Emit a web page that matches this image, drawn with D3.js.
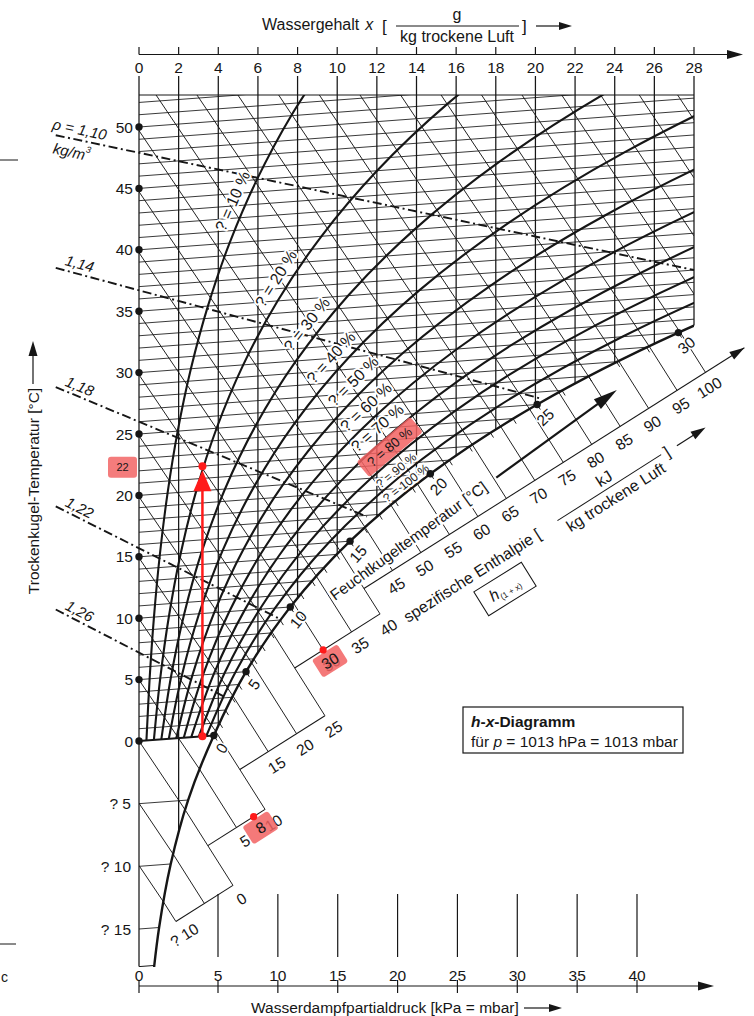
<!DOCTYPE html>
<html>
<head>
<meta charset="utf-8">
<title>h-x-Diagramm</title>
<script src="https://cdn.jsdelivr.net/npm/d3@7"></script>
<style>
  body { margin: 0; background: #fff; }
  #canvas { width: 754px; height: 1016px; }
  text { font-family: "Liberation Sans", Arial, Helvetica, sans-serif; fill: #161616; }
</style>
</head>
<body>
<div id="canvas"></div>
<script>
// ---- values ----
var xTicks = [0, 2, 4, 6, 8, 10, 12, 14, 16, 18, 20, 22, 24, 26, 28];   // Wassergehalt g/kg
var tTicks = [0, 5, 10, 15, 20, 25, 30, 35, 40, 45, 50];               // Trockenkugel °C
var tTicksNeg = [-5, -10, -15];
var pTicks = [0, 5, 10, 15, 20, 25, 30, 35, 40];                       // Partialdruck
// saturation pressure table (hPa), over ice below 0 °C
var satT = [-20, -15, -10, -5, 0, 5, 10, 15, 20, 25, 30, 35, 40, 45, 50, 55];
var satP = [1.03, 1.65, 2.60, 4.02, 6.11, 8.72, 12.28, 17.05, 23.39, 31.69, 42.46, 56.29, 73.84, 95.93, 123.5, 157.6];
var rhLevels = [10, 20, 30, 40, 50, 60, 70, 80, 90, 100];
var rhLabelT = [42.9, 36.2, 32.2, 29.3, 27.2, 25.0, 23.2, 21.7, 20.0, 18.9];
var wetBulbT = [0, 5, 10, 15, 20, 25, 30];
// enthalpy scale: stepped segments
var hSegFrom = [-10, 0, 10, 25, 40];
var hSegTo = [0, 10, 25, 40, 100];
var hSegAtH = [0, 10, 25, 40, 40];
var hSegAtX = [4.74, 6.36, 9.38, 12.16, 11.35];
var hSegLabels = [[-10, 0], [5, 10], [15, 20, 25], [30, 35, 40],
  [45, 50, 55, 60, 65, 70, 75, 80, 85, 90, 95, 100]];
// density lines (kg/m3)
var rhoLabels = ['1,10', '1,14', '1,18', '1,22', '1,26'];
var rhoT0 = [47.9, 36.7, 26.0, 15.7, 7.2];
var rhoXEnd = [28, 20.2, 11.5, 7.2, 4.4];
var rhoTEnd = [35.0, 25.5, 16.9, 9.0, 3.0];
// red marks
var markX = 3.2;
var markT = [0, 22];
var markH = [8, 30];

// ---- layout ----
var P_AIR = 1013;
var SKEW = 1.47;      // isotherms rise to the right (px per g/kg)
var FOG = 1.58;       // slope of enthalpy lines below the saturation curve
var Y_TOP = 95;
var T_MIN = -18;
var ink = '#161616';
var red = '#ff1a1a';

var xScale = d3.scaleLinear().domain([0, 28]).range([139, 694]);
var tScale = d3.scaleLinear().domain([-15, 0, 50]).range([929, 741, 127]);
var pScale = d3.scaleLinear().domain([0, 5, 40]).range([139, 218, 637]);

function pt(x, t) { return [xScale(x), tScale(t) - SKEW * x]; }
function psAt(t) {
  var i = Math.max(0, Math.min(satT.length - 2, d3.bisectRight(satT, t) - 1));
  var f = (t - satT[i]) / (satT[i + 1] - satT[i]);
  return Math.exp(Math.log(satP[i]) * (1 - f) + Math.log(satP[i + 1]) * f);
}
function tAtPs(ps) {
  var i = Math.max(0, Math.min(satP.length - 2, d3.bisectRight(satP, ps) - 1));
  var f = Math.log(ps / satP[i]) / Math.log(satP[i + 1] / satP[i]);
  return satT[i] + f * (satT[i + 1] - satT[i]);
}
function xOf(ps, phi) { var pv = phi * ps; return 622 * pv / (P_AIR - pv); }
function xSatOf(t, phi) { return xOf(psAt(t), phi); }
function tSatOfX(x) { return x <= 0 ? T_MIN : tAtPs(x * P_AIR / (622 + x)); }
function hOf(t, x) { return 1.006 * t + x * (2.501 + 0.00186 * t); }
function tOfHX(h, x) { return (h - 2.501 * x) / (1.006 + 0.00186 * x); }
function tSatOfH(h) {
  var lo = -20, hi = 55;
  for (var i = 0; i < 50; i++) {
    var mid = (lo + hi) / 2;
    if (hOf(mid, xSatOf(mid, 1)) < h) lo = mid; else hi = mid;
  }
  return (lo + hi) / 2;
}
function satPointH(h) { var t = tSatOfH(h); return pt(xSatOf(t, 1), t); }
function segIndex(h) {
  for (var i = 0; i < hSegFrom.length; i++) if (h > hSegFrom[i] && h <= hSegTo[i]) return i;
  return 0;
}
function fogEnd(h, k) {
  var s = satPointH(h);
  var aS = satPointH(hSegAtH[k]);
  var ax = xScale(hSegAtX[k]);
  var ay = aS[1] + FOG * (ax - aS[0]);
  var X = (ay - s[1] + FOG * s[0] + ax / FOG) / (FOG + 1 / FOG);
  return [X, s[1] + FOG * (X - s[0])];
}
var fogN = Math.sqrt(1 + FOG * FOG);
var fogDir = [1 / fogN, FOG / fogN];          // down-right along h lines
var segDir = [FOG / fogN, -1 / fogN];         // up-right along the scale
var segAngle = Math.atan2(segDir[1], segDir[0]) * 180 / Math.PI;
function fmt(v) { return v < 0 ? '? ' + (-v) : String(v); }

var svg = d3.select('#canvas').append('svg')
  .attr('width', 754).attr('height', 1016)
  .style('background', '#fff');

var defs = svg.append('defs');
defs.append('clipPath').attr('id', 'gridClip').append('rect')
  .attr('x', xScale(0)).attr('y', Y_TOP)
  .attr('width', xScale(28) - xScale(0))
  .attr('height', tScale(T_MIN) - Y_TOP + 0.5);

function arrowHead(g, tip, ang, len, half) {
  var c = Math.cos(ang), s = Math.sin(ang);
  var bx = tip[0] - len * c, by = tip[1] - len * s;
  g.append('path')
    .attr('d', 'M' + tip + 'L' + [bx - half * s, by + half * c] + 'L' + [bx + half * s, by - half * c] + 'Z')
    .attr('fill', ink);
}
function halo(sel, w) {
  return sel.attr('stroke', '#fff').attr('stroke-width', w || 4)
    .attr('stroke-linejoin', 'round').attr('paint-order', 'stroke');
}
var line = d3.line();

// ---- clipped grid ----
var grid = svg.append('g').attr('clip-path', 'url(#gridClip)')
  .attr('fill', 'none').attr('stroke', ink);

// isotherms every 1 °C, below zero every 5 °C
var isoT = d3.range(1, 54).concat(tTicksNeg);
grid.selectAll('path.iso').data(isoT).enter().append('path')
  .attr('class', 'iso')
  .attr('stroke-width', 0.85)
  .attr('d', function (t) { return line([pt(0, t), pt(Math.min(28, xSatOf(t, 1)), t)]); });
grid.append('path').attr('stroke-width', 1)
  .attr('d', line([pt(0, T_MIN), pt(xSatOf(T_MIN, 1), T_MIN)]));

// enthalpy lines in the unsaturated region
var hAll = d3.range(-10, 125, 5);
var hSat28 = hOf(tSatOfX(28), 28);
grid.selectAll('path.h').data(hAll).enter().append('path')
  .attr('class', 'h')
  .attr('stroke-width', 0.95)
  .attr('d', function (h) {
    var a = pt(0, h / 1.006);
    var b = h <= hSat28 ? satPointH(h) : pt(28, tOfHX(h, 28));
    return line([a, b]);
  });

// relative humidity curves and saturation curve
var curve = d3.line().curve(d3.curveCatmullRom.alpha(0.5));
rhLevels.forEach(function (phi) {
  var ts = phi < 100 ? satT.filter(function (t) { return t >= 0; }) : satT;
  grid.append('path')
    .attr('stroke-width', phi < 100 ? 2.1 : 2.4)
    .attr('d', curve(ts.map(function (t) { return pt(xSatOf(t, phi / 100), t); })));
});

// top edge
svg.append('path').attr('stroke', ink).attr('stroke-width', 1)
  .attr('d', line([[xScale(0), Y_TOP], [xScale(28), Y_TOP]]));

// vertical lines of constant x
svg.append('g').selectAll('path').data(xTicks).enter().append('path')
  .attr('stroke', ink).attr('stroke-width', 1.25).attr('fill', 'none')
  .attr('d', function (x) { return line([[xScale(x), 76], pt(x, tSatOfX(x))]); });

// 0 °C isotherm (bold)
svg.append('path').attr('stroke', ink).attr('stroke-width', 2).attr('fill', 'none')
  .attr('d', line([pt(0, 0), pt(xSatOf(0, 1), 0)]));

// ---- enthalpy lines past the saturation curve and the stepped scale ----
var fog = svg.append('g').attr('stroke', ink).attr('fill', 'none');
hAll.filter(function (h) { return h <= 100; }).forEach(function (h) {
  fog.append('path').attr('stroke-width', 0.95)
    .attr('d', line([satPointH(h), fogEnd(h, segIndex(h))]));
});
hSegFrom.forEach(function (h0, k) {
  var a = fogEnd(h0, k), b = fogEnd(hSegTo[k], k);
  if (k === hSegFrom.length - 1) {
    b = [b[0] + 46 * segDir[0], b[1] + 46 * segDir[1]];
    arrowHead(svg, b, Math.atan2(segDir[1], segDir[0]), 15, 4.5);
  }
  fog.append('path').attr('stroke-width', 1.05).attr('d', line([a, b]));
});
hSegLabels.forEach(function (vals, k) {
  vals.forEach(function (h) {
    var p = fogEnd(h, k);
    var off = k === 4 ? 15 : 16;
    var along = k === 4 ? -5 : 0;
    svg.append('text')
      .attr('transform', 'translate(' + (p[0] + off * fogDir[0] + along * segDir[0]) + ',' +
        (p[1] + off * fogDir[1] + along * segDir[1]) + ') rotate(' + segAngle + ')')
      .attr('text-anchor', 'middle').attr('dominant-baseline', 'central')
      .attr('font-size', 15.5).text(fmt(h));
  });
});

// wet-bulb ticks on saturation curve
d3.range(0, 31).forEach(function (t) {
  var p = pt(xSatOf(t, 1), t);
  svg.append('path').attr('stroke', ink).attr('stroke-width', 0.95)
    .attr('d', line([p, [p[0] + 6 * fogDir[0], p[1] + 6 * fogDir[1]]]));
});

// ---- density lines ----
var rhoG = svg.append('g');
rhoLabels.forEach(function (lab, i) {
  var xs = -4.2;
  var ts = rhoT0[i] + (rhoTEnd[i] - rhoT0[i]) * xs / rhoXEnd[i];
  var a = pt(xs, ts), b = pt(rhoXEnd[i], rhoTEnd[i]);
  rhoG.append('path').attr('stroke', ink).attr('stroke-width', 1.9).attr('fill', 'none')
    .attr('stroke-dasharray', '9,3.5,2,3.5')
    .attr('d', line([a, b]));
  var ang = Math.atan2(b[1] - a[1], b[0] - a[0]) * 180 / Math.PI;
  var lx = a[0] + 24, ly = a[1] + (b[1] - a[1]) * 24 / (b[0] - a[0]);
  rhoG.append('text')
    .attr('transform', 'translate(' + lx + ',' + (ly - 11) + ') rotate(' + ang + ')')
    .attr('text-anchor', 'middle').attr('dominant-baseline', 'central')
    .attr('font-size', 15).attr('font-style', 'italic')
    .text(i === 0 ? 'ρ = ' + lab : lab);
  if (i === 0) {
    var u = rhoG.append('text')
      .attr('transform', 'translate(' + (lx - 8) + ',' + (ly + 11) + ') rotate(' + ang + ')')
      .attr('text-anchor', 'middle').attr('dominant-baseline', 'central')
      .attr('font-size', 15).attr('font-style', 'italic');
    u.append('tspan').text('kg/m');
    u.append('tspan').attr('font-size', 9).attr('dy', -5).text('3');
  }
});

// ---- RH labels ----
rhLevels.forEach(function (phi, i) {
  var t = rhLabelT[i];
  var p0 = pt(xSatOf(t - 0.3, phi / 100), t - 0.3);
  var p1 = pt(xSatOf(t + 0.3, phi / 100), t + 0.3);
  var p = pt(xSatOf(t, phi / 100), t);
  var dx = p1[0] - p0[0], dy = p1[1] - p0[1], len = Math.sqrt(dx * dx + dy * dy);
  var small = phi >= 90;
  var off = small ? 7 : (phi === 80 ? 11 : 13);
  var cx = p[0] + off * dy / len, cy = p[1] - off * dx / len;
  var ang = Math.atan2(dy, dx) * 180 / Math.PI;
  var g = svg.append('g').attr('transform', 'translate(' + cx + ',' + cy + ') rotate(' + ang + ')');
  if (phi === 80) {
    g.append('rect').attr('x', -35).attr('y', -10).attr('width', 70).attr('height', 20).attr('rx', 3)
      .attr('fill', '#f26262').attr('opacity', 0.85);
  }
  var txt = g.append('text').attr('text-anchor', 'middle').attr('dominant-baseline', 'central')
    .attr('font-size', small ? 12 : 16).text('? = ' + phi + ' %');
  if (phi === 80) txt.attr('fill', '#8a1f1f').attr('font-size', 13.5);
  else halo(txt, 4);
});

// wet-bulb dots and labels
wetBulbT.forEach(function (t) {
  var p = pt(xSatOf(t, 1), t);
  svg.append('circle').attr('cx', p[0]).attr('cy', p[1]).attr('r', 3.7).attr('fill', ink);
  halo(svg.append('text')
    .attr('transform', 'translate(' + (p[0] + 15 * fogDir[0]) + ',' + (p[1] + 15 * fogDir[1]) + ') rotate(' + (-57 + 0.55 * t) + ')')
    .attr('text-anchor', 'middle').attr('dominant-baseline', 'central')
    .attr('font-size', 15.5).text(String(t)), 3);
});

// labels along the scales
var fk = svg.append('g').attr('transform', 'translate(335,601) rotate(-36)');
halo(fk.append('text').attr('font-size', 15.5).text('Feuchtkugeltemperatur [°C]'), 5);
fk.append('path').attr('stroke', ink).attr('stroke-width', 2.2)
  .attr('d', line([[203, -5], [332, -5]]));
arrowHead(fk, [352, -5], 0, 24, 6);

var se = svg.append('g').attr('transform', 'translate(408,623) rotate(-32.5)');
se.append('text').attr('font-size', 16).text('spezifische Enthalpie [');
se.append('text').attr('x', 243).attr('y', -11).attr('text-anchor', 'middle').attr('font-size', 16).text('kJ');
se.append('path').attr('stroke', ink).attr('stroke-width', 1).attr('d', line([[181, -6], [304, -6]]));
se.append('text').attr('x', 243).attr('y', 11).attr('text-anchor', 'middle').attr('font-size', 16).text('kg trockene Luft');
se.append('text').attr('x', 308).attr('y', 0).attr('font-size', 16).text(']');
se.append('path').attr('stroke', ink).attr('stroke-width', 1.2).attr('d', line([[322, -5], [342, -5]]));
arrowHead(se, [356, -5], 0, 15, 4.5);
var hb = svg.append('g').attr('transform', 'translate(505,589) rotate(-32)');
hb.append('rect').attr('x', -28).attr('y', -14).attr('width', 56).attr('height', 28)
  .attr('fill', '#fff').attr('stroke', ink).attr('stroke-width', 1);
var ht = hb.append('text').attr('x', -17).attr('y', 5).attr('font-size', 16);
ht.append('tspan').attr('font-style', 'italic').text('h');
ht.append('tspan').attr('font-size', 8.5).attr('dy', 3).text('(1 + x)');

// ---- axes ----
var ax = svg.append('g');
// top
ax.append('path').attr('stroke', ink).attr('stroke-width', 1.2)
  .attr('d', line([[xScale(0), 54.5], [735, 54.5]]));
arrowHead(ax, [743, 54.5], 0, 16, 4.5);
xTicks.forEach(function (x) {
  ax.append('path').attr('stroke', ink).attr('stroke-width', 1.2)
    .attr('d', line([[xScale(x), 47], [xScale(x), 54.5]]));
  ax.append('text').attr('x', xScale(x)).attr('y', 72.5).attr('text-anchor', 'middle')
    .attr('font-size', 15.5).text(x);
});
var tt = ax.append('text').attr('x', 262).attr('y', 30).attr('font-size', 16);
tt.append('tspan').text('Wassergehalt');
tt.append('tspan').attr('font-style', 'italic').attr('dx', 6).text('x');
ax.append('text').attr('x', 382).attr('y', 32).attr('font-size', 17).text('[');
ax.append('text').attr('x', 457).attr('y', 20).attr('text-anchor', 'middle').attr('font-size', 16).text('g');
ax.append('path').attr('stroke', ink).attr('stroke-width', 1).attr('d', line([[396, 26], [519, 26]]));
ax.append('text').attr('x', 457).attr('y', 42).attr('text-anchor', 'middle').attr('font-size', 16).text('kg trockene Luft');
ax.append('text').attr('x', 522).attr('y', 32).attr('font-size', 17).text(']');
ax.append('path').attr('stroke', ink).attr('stroke-width', 1.2).attr('d', line([[536, 26], [560, 26]]));
arrowHead(ax, [572, 26], 0, 13, 4);

// left
tTicks.forEach(function (t) {
  ax.append('circle').attr('cx', xScale(0)).attr('cy', tScale(t)).attr('r', 3.7).attr('fill', ink);
  ax.append('text').attr('x', 133).attr('y', tScale(t) + 5.5).attr('text-anchor', 'end')
    .attr('font-size', 15.5).text(t);
});
tTicksNeg.forEach(function (t) {
  ax.append('text').attr('x', 131).attr('y', tScale(t) + 5.5).attr('text-anchor', 'end')
    .attr('font-size', 15.5).text(fmt(t));
});
ax.append('text').attr('transform', 'translate(38.5,491) rotate(-90)').attr('text-anchor', 'middle')
  .attr('font-size', 15.5).text('Trockenkugel-Temperatur [°C]');
ax.append('path').attr('stroke', ink).attr('stroke-width', 1.2).attr('d', line([[33, 384], [33, 356]]));
arrowHead(ax, [33, 341], -Math.PI / 2, 15, 4.5);

// bottom
ax.append('path').attr('stroke', ink).attr('stroke-width', 1.2)
  .attr('d', line([[pScale(0), 986], [705, 986]]));
arrowHead(ax, [714, 986], 0, 16, 4.5);
pTicks.forEach(function (p) {
  ax.append('path').attr('stroke', ink).attr('stroke-width', 1.2)
    .attr('d', line([[pScale(p), 980], [pScale(p), 993]]));
  if (p > 0) {
    ax.append('path').attr('stroke', ink).attr('stroke-width', 1.2)
      .attr('d', line([[pScale(p), 894], [pScale(p), 957]]));
  }
  ax.append('text').attr('x', pScale(p)).attr('y', 980.5).attr('text-anchor', 'middle')
    .attr('font-size', 15.5).text(p);
});
ax.append('text').attr('x', 251).attr('y', 1013).attr('font-size', 15.5)
  .text('Wasserdampfpartialdruck [kPa = mbar]');
ax.append('path').attr('stroke', ink).attr('stroke-width', 1.2).attr('d', line([[524, 1008], [550, 1008]]));
arrowHead(ax, [562, 1008], 0, 13, 4);

// stray marks at the left edge
ax.append('path').attr('stroke', ink).attr('stroke-width', 1).attr('d', line([[0, 160], [18, 160]]));
ax.append('path').attr('stroke', ink).attr('stroke-width', 1).attr('d', line([[0, 944], [16, 944]]));
ax.append('text').attr('x', 1).attr('y', 982).attr('font-size', 14).text('c');

// info box
svg.append('rect').attr('x', 463).attr('y', 707).attr('width', 220).attr('height', 46)
  .attr('fill', '#fff').attr('stroke', ink).attr('stroke-width', 1.2);
var b1 = svg.append('text').attr('x', 471).attr('y', 727).attr('font-size', 15.5).attr('font-weight', 'bold');
b1.append('tspan').attr('font-style', 'italic').text('h');
b1.append('tspan').text('-');
b1.append('tspan').attr('font-style', 'italic').text('x');
b1.append('tspan').text('-Diagramm');
var b2 = svg.append('text').attr('x', 471).attr('y', 747).attr('font-size', 15.5);
b2.append('tspan').text('für ');
b2.append('tspan').attr('font-style', 'italic').text('p');
b2.append('tspan').text(' = 1013 hPa = 1013 mbar');

// ---- red annotations ----
var rg = svg.append('g');
var m0 = pt(markX, markT[0]), m1 = pt(markX, markT[1]);
rg.append('path').attr('stroke', red).attr('stroke-width', 2.5).attr('d', line([m0, [m1[0], m1[1] + 8]]));
rg.append('path').attr('fill', red)
  .attr('d', 'M' + [m1[0], m1[1] + 4] + 'L' + [m1[0] - 9, m1[1] + 25] + 'L' + [m1[0] + 9, m1[1] + 25] + 'Z');
rg.append('circle').attr('cx', m0[0]).attr('cy', m0[1]).attr('r', 4).attr('fill', red);
rg.append('circle').attr('cx', m1[0]).attr('cy', m1[1]).attr('r', 4).attr('fill', red);
rg.append('rect').attr('x', xScale(0) - 31).attr('y', tScale(markT[1]) - 14).attr('width', 29).attr('height', 21)
  .attr('rx', 3).attr('fill', '#f47c7c');
rg.append('text').attr('x', xScale(0) - 16.5).attr('y', tScale(markT[1]) - 3.5)
  .attr('text-anchor', 'middle').attr('dominant-baseline', 'central').attr('font-size', 11)
  .text(markT[1]);
markH.forEach(function (h) {
  var p = fogEnd(h, segIndex(h));
  var c = [p[0] + 13 * fogDir[0], p[1] + 13 * fogDir[1]];
  var g = rg.append('g').attr('transform', 'translate(' + c + ') rotate(' + segAngle + ')');
  g.append('rect').attr('x', -15).attr('y', -10.5).attr('width', 30).attr('height', 21).attr('rx', 3)
    .attr('fill', '#f26262').attr('opacity', 0.85);
  g.append('text').attr('text-anchor', 'middle').attr('dominant-baseline', 'central')
    .attr('font-size', 15.5).text(h);
  rg.append('circle').attr('cx', p[0]).attr('cy', p[1]).attr('r', 3.6).attr('fill', red);
});
</script>
</body>
</html>
